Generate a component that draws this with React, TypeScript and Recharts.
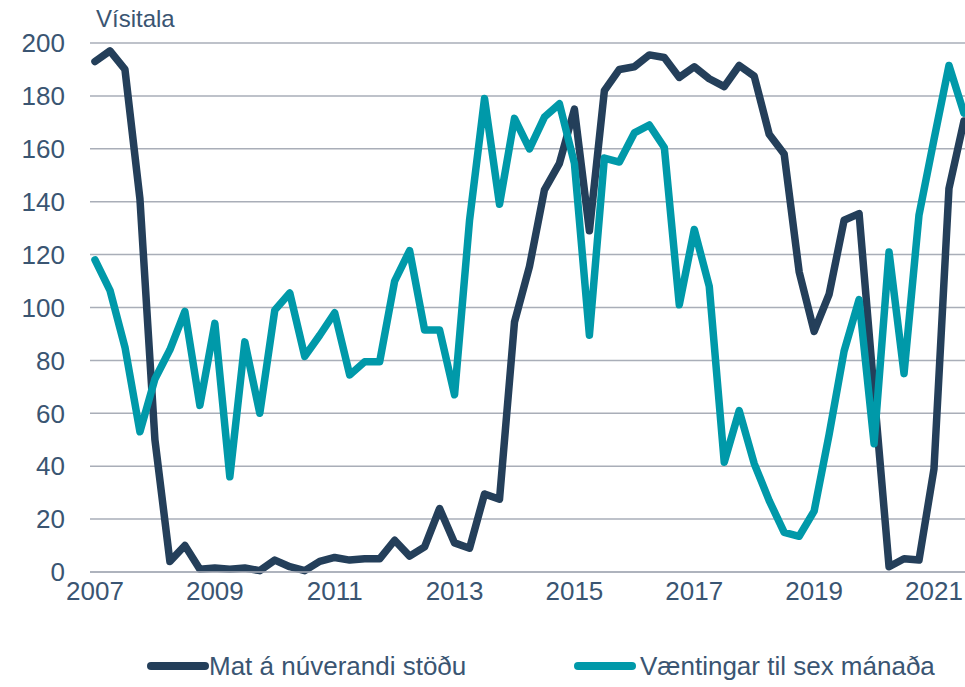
import { LineChart, Line, XAxis, YAxis, CartesianGrid, Legend } from 'recharts'

const START_YEAR = 2007

// Ársfjórðungsgögn, 2007 F1 – 2021 F3
const matNuverandi = [
  193, 197, 190, 141, 50, 4, 10, 1, 1.5, 1,
  1.5, 0.5, 4.5, 2, 0.5, 4, 5.5, 4.5, 5, 5,
  12, 6, 9.5, 24, 11, 9, 29.5, 27.5, 94.5, 115.5,
  144.5, 154.5, 175, 129, 182, 190, 191, 195.5, 194.5, 187,
  191, 186.5, 183.5, 191.5, 187.5, 165.5, 158, 113.5, 91, 105,
  133, 135.5, 68, 2, 5, 4.5, 39, 145, 170.5,
]

const vaentingar = [
  118, 106.5, 85, 53, 73, 84, 98.5, 63, 94, 36,
  87, 60, 99, 105.5, 81.5, 89.5, 98, 74.5, 79.5, 79.5,
  110, 121.5, 91.5, 91.5, 67, 133, 179, 139, 171.5, 160,
  172, 177, 154.5, 89.5, 156.5, 155, 166, 169, 160.5, 101,
  129.5, 108, 41.5, 61, 41, 27, 15, 13.5, 23, 52,
  83.5, 103, 48.5, 121, 75, 135, 163.5, 191.5, 173.5,
]

const yTicks = [0, 20, 40, 60, 80, 100, 120, 140, 160, 180, 200]
const xTickYears = [2007, 2009, 2011, 2013, 2015, 2017, 2019, 2021]

const SERIES = [
  { key: 'mat', name: 'Mat á núverandi stöðu', color: '#243f5a' },
  { key: 'vaent', name: 'Væntingar til sex mánaða', color: '#0099a9' },
]

const data = matNuverandi.map((v, i) => ({ q: i, mat: v, vaent: vaentingar[i] }))
const xTicks = xTickYears.map(y => (y - START_YEAR) * 4)

const TEXT = '#3a5572'
const FONT = '"Liberation Sans", Arial, sans-serif'

function ChartLegend() {
  const pos = [{ line: 151, text: 209 }, { line: 578, text: 640 }]
  return (
    <div style={{ position: 'relative', width: 965, height: 30 }}>
      {SERIES.map((s, i) => (
        <div key={s.key}>
          <svg style={{ position: 'absolute', left: pos[i].line - 4, top: 6 }} width={66} height={16}>
            <line x1={4} y1={8} x2={58} y2={8} stroke={s.color} strokeWidth={8} strokeLinecap="round" />
          </svg>
          <span style={{
            position: 'absolute', left: pos[i].text, top: 0, fontSize: 26,
            color: TEXT, fontFamily: FONT, whiteSpace: 'nowrap', lineHeight: '28px',
          }}>{s.name}</span>
        </div>
      ))}
    </div>
  )
}

export default function App() {
  return (
    <div style={{ position: 'absolute', left: 0, top: 0, width: 965, height: 687, background: '#fff' }}>
      <div style={{
        position: 'absolute', left: 96, top: 5, fontSize: 24, color: TEXT, fontFamily: FONT,
      }}>Vísitala</div>
      <LineChart width={965} height={687} data={data}
        margin={{ top: 43, right: 0, left: 0, bottom: 45 }}>
        <CartesianGrid vertical={false} stroke="#a9aeb8" strokeWidth={1.5} />
        <XAxis type="number" dataKey="q" domain={[-1 / 3, 58.07]} allowDataOverflow
          ticks={xTicks} tickFormatter={q => String(START_YEAR + q / 4)}
          axisLine={{ stroke: '#a9aeb8', strokeWidth: 1.5 }} tickLine={false} tickMargin={4}
          height={40}
          tick={{ fill: TEXT, fontSize: 26, fontFamily: FONT }} />
        <YAxis domain={[0, 200]} ticks={yTicks} axisLine={false} tickLine={false}
          width={90} tickMargin={19}
          tick={{ fill: TEXT, fontSize: 26, fontFamily: FONT }} />
        <Legend verticalAlign="bottom" content={() => <ChartLegend />}
          wrapperStyle={{ left: 0, top: 652, width: 965 }} />
        {SERIES.map(s => (
          <Line key={s.key} dataKey={s.key} name={s.name} stroke={s.color} strokeWidth={7.5}
            dot={false} type="linear" strokeLinejoin="round" strokeLinecap="round"
            isAnimationActive={false} />
        ))}
      </LineChart>
    </div>
  )
}
